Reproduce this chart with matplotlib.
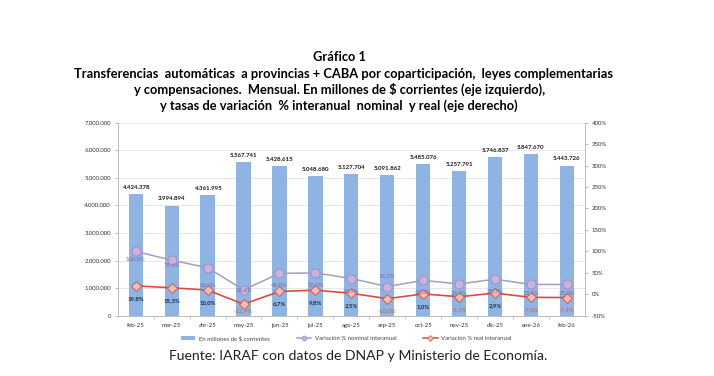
import matplotlib
matplotlib.use("Agg")
import matplotlib.pyplot as plt
from matplotlib.lines import Line2D
from matplotlib.patches import Patch

plt.rcParams["font.family"] = ["Lato", "DejaVu Sans"]

months = ["feb-25", "mar-25", "abr-25", "may-25", "jun-25", "jul-25", "ago-25",
          "sep-25", "oct-25", "nov-25", "dic-25", "ene-26", "feb-26"]
transfers = [4424378, 3994894, 4361995, 5567741, 5428615, 5048680, 5127704,
             5091862, 5485076, 5257791, 5746837, 5847670, 5443726]
nominal_pct = [100.0, 79.6, 62.0, 10.6, 48.8, 50.0, 36.9, 18.3, 32.6, 24.2, 35.3, 23.1, 23.0]
real_pct = [19.8, 15.3, 10.0, -22.9, 6.7, 9.8, 2.5, -10.0, 1.0, -5.5, 2.9, -7.0, -7.4]

left_ticks = [0, 1000000, 2000000, 3000000, 4000000, 5000000, 6000000, 7000000]
right_ticks = [-50, 0, 50, 100, 150, 200, 250, 300, 350, 400]

BAR = "#8db4e2"
NOM_LINE = "#a39bcb"
NOM_FILL = "#c9b3da"
NOM_EDGE = "#a78cc4"
REAL_LINE = "#dd4a42"
REAL_FILL = "#f6bcb2"
REAL_EDGE = "#d9574f"


def thousands(v):
    return f"{v:,.0f}".replace(",", ".")


def pct(v):
    return f"{v:.1f}%".replace(".", ",")


fig = plt.figure(figsize=(7.14, 3.76), dpi=100)
ax = fig.add_axes([0.165, 0.160, 0.654, 0.514])
ax2 = ax.twinx()
ax.set_zorder(1)
ax2.set_zorder(2)
ax.patch.set_visible(False)

x = list(range(len(months)))
ax.bar(x, transfers, width=0.4, color=BAR, zorder=2)
for xi, v in zip(x, transfers):
    ax.annotate(thousands(v), (xi, v), xytext=(0, 3), textcoords="offset points",
                ha="center", va="bottom", fontsize=4.4, fontweight="bold", color="#1a1a1a")

ax.set_xlim(-0.5, len(months) - 0.5)
ax.set_ylim(0, 7000000)
ax.set_yticks(left_ticks)
ax.set_yticklabels([thousands(v) for v in left_ticks])
ax.set_xticks(x)
ax.set_xticklabels(months)
ax.tick_params(axis="x", length=0, labelsize=4.3, pad=5, colors="#333333")
ax.tick_params(axis="y", length=2, labelsize=4.3, pad=3, colors="#333333", color="#bbbbbb")
ax.set_xticks([i + 0.5 for i in x[:-1]], minor=True)
ax.tick_params(axis="x", which="minor", length=2.5, color="#bbbbbb")
ax.grid(axis="y", color="#e3e3e3", linewidth=0.6, zorder=0)
ax.set_axisbelow(True)
for side in ["top", "right"]:
    ax.spines[side].set_visible(False)
for side in ["left", "bottom"]:
    ax.spines[side].set_color("#bbbbbb")
    ax.spines[side].set_linewidth(0.7)

ax2.plot(x, nominal_pct, color=NOM_LINE, linewidth=1.1, marker="o", markersize=6.5,
         markerfacecolor=NOM_FILL, markeredgecolor=NOM_EDGE, markeredgewidth=0.7)
ax2.plot(x, real_pct, color=REAL_LINE, linewidth=1.2, marker="D", markersize=5.2,
         markerfacecolor=REAL_FILL, markeredgecolor=REAL_EDGE, markeredgewidth=0.7)
ax2.set_ylim(-50, 400)
ax2.set_yticks(right_ticks)
ax2.set_yticklabels([f"{v}%" for v in right_ticks])
ax2.tick_params(axis="y", length=2, labelsize=4.3, pad=3, colors="#333333", color="#bbbbbb")
for side in ["top", "left", "bottom"]:
    ax2.spines[side].set_visible(False)
ax2.spines["right"].set_color("#bbbbbb")
ax2.spines["right"].set_linewidth(0.7)

# data labels: nominal sits just under its marker except a few spots
nominal_offsets = {0: -5, 1: -3, 2: -12, 3: 0, 7: 8, 9: -6, 11: -6, 12: -6}
for i, v in enumerate(nominal_pct):
    dy = nominal_offsets.get(i, -8.5)
    ax2.annotate(pct(v), (i, v), xytext=(0, dy), textcoords="offset points",
                 ha="center", va="center", fontsize=4.3, color="#7b6dae")
for i, v in enumerate(real_pct):
    dy = -5 if i == 3 else -9
    color = "#1f2a44" if v >= 0 else "#e0574d"
    weight = "bold" if v >= 0 else "normal"
    ax2.annotate(pct(v), (i, v), xytext=(0, dy), textcoords="offset points",
                 ha="center", va="center", fontsize=4.3, color=color, fontweight=weight)

handles = [
    Patch(facecolor=BAR, edgecolor="none"),
    Line2D([], [], color=NOM_LINE, linewidth=1.1, marker="o", markersize=3.5,
           markerfacecolor=NOM_FILL, markeredgecolor=NOM_EDGE, markeredgewidth=0.5),
    Line2D([], [], color=REAL_LINE, linewidth=1.1, marker="D", markersize=3,
           markerfacecolor=REAL_FILL, markeredgecolor=REAL_EDGE, markeredgewidth=0.5),
]
labels = ["En millones de $ corrientes", "Variación % nominal interanual",
          "Variación % real interanual"]
fig.legend(handles, labels, loc="center", bbox_to_anchor=(0.485, 0.100), ncol=3,
           frameon=False, fontsize=4.3, handlelength=2.4, handleheight=0.5,
           columnspacing=4.5, handletextpad=0.6, labelcolor="#444444")

title_kw = dict(ha="center", va="center", fontsize=9.3, fontweight="bold")
fig.text(0.475, 0.848, "Gráfico 1", **title_kw)
fig.text(0.481, 0.804,
         "Transferencias  automáticas  a provincias + CABA por coparticipación,  leyes complementarias",
         **title_kw)
fig.text(0.475, 0.761,
         "y compensaciones.  Mensual. En millones de $ corrientes (eje izquierdo),",
         **title_kw)
fig.text(0.475, 0.718,
         "y tasas de variación  % interanual  nominal  y real (eje derecho)",
         **title_kw)
fig.text(0.502, 0.053, "Fuente: IARAF con datos de DNAP y Ministerio de Economía.",
         ha="center", va="center", fontsize=10.1, color="#222222")

fig.savefig("out.png", dpi=100, facecolor="white")
